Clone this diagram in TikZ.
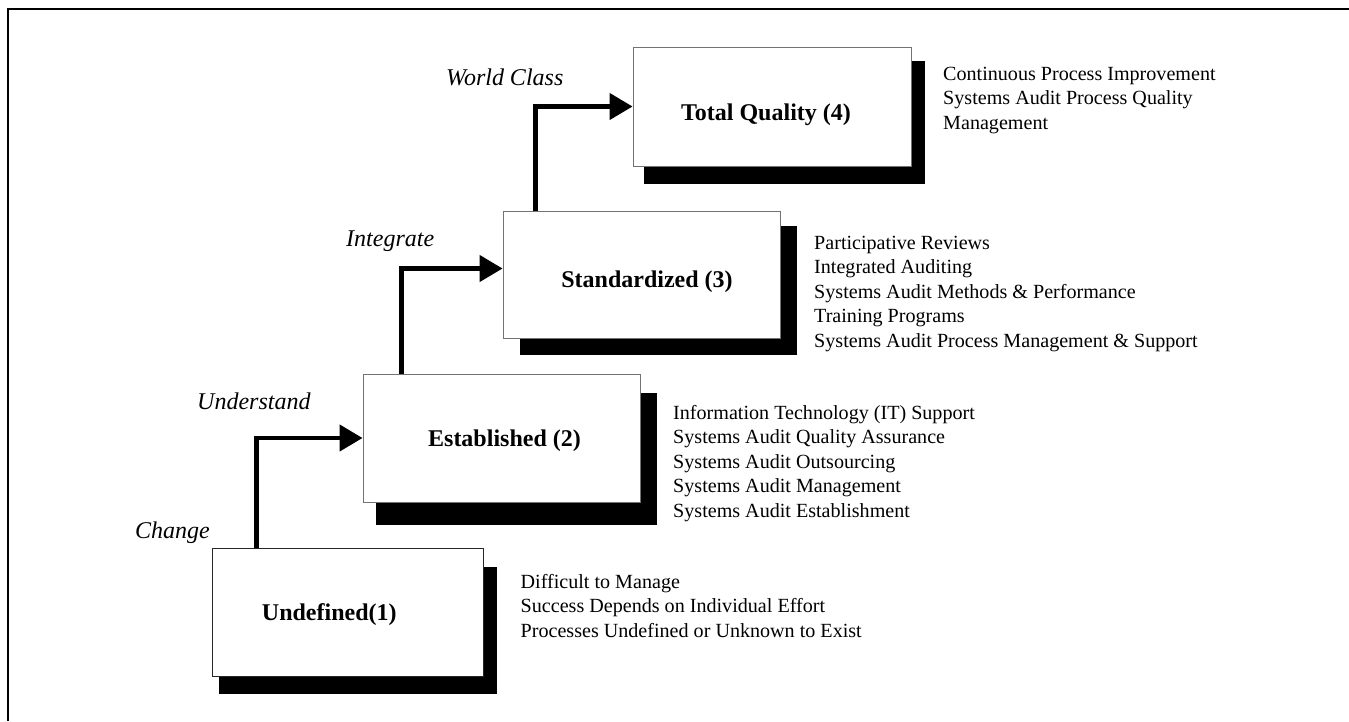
\documentclass[tikz,border=0pt]{standalone}
\usepackage{fontspec}
\setmainfont{Liberation Serif}
\usetikzlibrary{arrows.meta}
\begin{document}
\begin{tikzpicture}[x=1pt,y=-1pt,
  stagebox/.style={draw=black!55, line width=0.9pt, fill=white, inner sep=0pt},
  shadowbox/.style={fill=black},
  stagelabel/.style={font=\fontsize{24}{28}\selectfont\bfseries, anchor=base, inner sep=0pt},
  steplabel/.style={font=\fontsize{24}{28}\selectfont\itshape, anchor=base west, inner sep=0pt},
  itemlist/.style={font=\fontsize{20.1}{24.5}\selectfont, anchor=base west, inner sep=0pt},
  flow/.style={line width=4.5pt, -{Triangle[length=23pt,width=26pt]}},
  frameline/.style={line width=2pt}
]
\useasboundingbox (0,0) rectangle (1349,721);
\draw[frameline] (8,721) -- (8,9) -- (1349,9);

% shadows
\fill[shadowbox] (219,567) rectangle (497,694);
\fill[shadowbox] (376,393) rectangle (657,525);
\fill[shadowbox] (520,226) rectangle (797,355);
\fill[shadowbox] (644,61) rectangle (925,184);

% boxes
\node[stagebox, draw=black!85, minimum width=271pt, minimum height=128pt] (b1) at (347.5,612) {};
\node[stagebox, minimum width=277pt, minimum height=128pt] (b2) at (501.5,438) {};
\node[stagebox, minimum width=277pt, minimum height=127pt] (b3) at (641.5,274.5) {};
\node[stagebox, minimum width=278pt, minimum height=119pt] (b4) at (772,106.5) {};

% box labels
\node[stagelabel] (l1) at (329.3,620) {Undefined(1)};
\node[stagelabel] (l2) at (504.5,446) {Established (2)};
\node[stagelabel] (l3) at (647,287) {Standardized (3)};
\node[stagelabel] (l4) at (766,120) {Total Quality (4)};

% step labels
\node[steplabel] (s1) at (135,538) {Change};
\node[steplabel] (s2) at (197,409) {Understand};
\node[steplabel] (s3) at (346,246) {Integrate};
\node[steplabel] (s4) at (446,85) {World Class};

% connectors
\draw[flow] ([xshift=45pt]b1.north west) |- (b2.west);
\draw[flow] ([xshift=39pt]b2.north west) |- ([yshift=6pt]b3.west);
\draw[flow] ([xshift=33pt]b3.north west) |- (b4.west);

% item lists
\node[itemlist] (t1) at (520.5,588) {\begin{tabular}[t]{@{}l@{}}Difficult to Manage\\Success Depends on Individual Effort\\Processes Undefined or Unknown to Exist\end{tabular}};
\node[itemlist] (t2) at (673,419) {\begin{tabular}[t]{@{}l@{}}Information Technology (IT) Support\\Systems Audit Quality Assurance\\Systems Audit Outsourcing\\Systems Audit Management\\Systems Audit Establishment\end{tabular}};
\node[itemlist] (t3) at (814,249) {\begin{tabular}[t]{@{}l@{}}Participative Reviews\\Integrated Auditing\\Systems Audit Methods \& Performance\\Training Programs\\Systems Audit Process Management \& Support\end{tabular}};
\node[itemlist] (t4) at (943,80) {\begin{tabular}[t]{@{}l@{}}Continuous Process Improvement\\Systems Audit Process Quality\\Management\end{tabular}};
\end{tikzpicture}
\end{document}
